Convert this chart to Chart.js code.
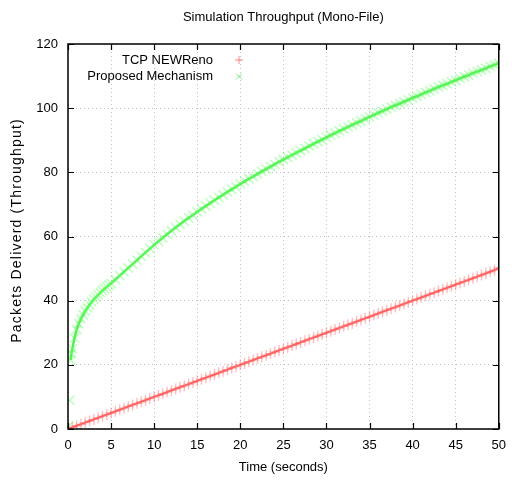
<!DOCTYPE html>
<html>
<head>
<meta charset="utf-8">
<script src="https://cdn.jsdelivr.net/npm/chart.js@4/dist/chart.umd.min.js"></script>
<style>
    html, body { margin: 0; padding: 0; background: #fff; }
    #wrap { width: 515px; height: 482px; }
</style>
</head>
<body>
<div id="wrap"><canvas id="chart" width="515" height="482"></canvas></div>
<script>
// ---------------------------------------------------------
// Data
// ---------------------------------------------------------

const titleText  = 'Simulation Throughput (Mono-File)';
const xAxisTitle = 'Time (seconds)';
const yAxisTitle = 'Packets Deliverd (Throughput)';

const seriesNames = ['TCP NEWReno', 'Proposed Mechanism'];

const xTicks = [0, 5, 10, 15, 20, 25, 30, 35, 40, 45, 50];
const yTicks = [0, 20, 40, 60, 80, 100, 120];

const timeNewReno = [
    0, 0.5, 1, 1.5, 2, 2.5, 3, 3.5, 4, 4.5, 5, 5.5, 6, 6.5, 7, 7.5, 8, 8.5, 9, 9.5,
    10, 10.5, 11, 11.5, 12, 12.5, 13, 13.5, 14, 14.5, 15, 15.5, 16, 16.5, 17, 17.5, 18, 18.5, 19, 19.5,
    20, 20.5, 21, 21.5, 22, 22.5, 23, 23.5, 24, 24.5, 25, 25.5, 26, 26.5, 27, 27.5, 28, 28.5, 29, 29.5,
    30, 30.5, 31, 31.5, 32, 32.5, 33, 33.5, 34, 34.5, 35, 35.5, 36, 36.5, 37, 37.5, 38, 38.5, 39, 39.5,
    40, 40.5, 41, 41.5, 42, 42.5, 43, 43.5, 44, 44.5, 45, 45.5, 46, 46.5, 47, 47.5, 48, 48.5, 49, 49.5, 50
];
const packetsNewReno = [
    0, 0.5, 1, 1.5, 2, 2.5, 3, 3.5, 4, 4.5, 5, 5.5, 6, 6.5, 7, 7.5, 8, 8.5, 9, 9.5,
    10, 10.5, 11, 11.5, 12, 12.5, 13, 13.5, 14, 14.5, 15, 15.5, 16, 16.5, 17, 17.5, 18, 18.5, 19, 19.5,
    20, 20.5, 21, 21.5, 22, 22.5, 23, 23.5, 24, 24.5, 25, 25.5, 26, 26.5, 27, 27.5, 28, 28.5, 29, 29.5,
    30, 30.5, 31, 31.5, 32, 32.5, 33, 33.5, 34, 34.5, 35, 35.5, 36, 36.5, 37, 37.5, 38, 38.5, 39, 39.5,
    40, 40.5, 41, 41.5, 42, 42.5, 43, 43.5, 44, 44.5, 45, 45.5, 46, 46.5, 47, 47.5, 48, 48.5, 49, 49.5, 50.2
];

// first two samples are isolated start-up points, the band starts at 0.3 s
const timeProposed = [
    0.1, 0.2, 0.3, 0.4, 0.5, 0.75, 1, 1.25, 1.5, 1.75, 2, 2.25, 2.5, 2.75, 3, 3.25, 3.5, 3.75, 4, 4.25, 4.5, 4.75,
    5, 5.5, 6, 6.5, 7, 7.5, 8, 8.5, 9, 9.5,
    10, 10.5, 11, 11.5, 12, 12.5, 13, 13.5, 14, 14.5, 15, 15.5, 16, 16.5, 17, 17.5, 18, 18.5, 19, 19.5,
    20, 20.5, 21, 21.5, 22, 22.5, 23, 23.5, 24, 24.5, 25, 25.5, 26, 26.5, 27, 27.5, 28, 28.5, 29, 29.5,
    30, 30.5, 31, 31.5, 32, 32.5, 33, 33.5, 34, 34.5, 35, 35.5, 36, 36.5, 37, 37.5, 38, 38.5, 39, 39.5,
    40, 40.5, 41, 41.5, 42, 42.5, 43, 43.5, 44, 44.5, 45, 45.5, 46, 46.5, 47, 47.5, 48, 48.5, 49, 49.5, 50
];
const packetsProposed = [
    1, 9, 21.5, 23.5, 25, 28.3, 31, 32.8, 34.3, 35.6, 36.8, 37.8, 38.7, 39.6, 40.4, 41.1, 41.8, 42.5, 43.1, 43.7, 44.3, 44.9,
    45.4, 46.6, 47.8, 49.0, 50.2, 51.4, 52.6, 53.8, 55.0, 56.2,
    57.4, 58.5, 59.6, 60.7, 61.8, 62.8, 63.8, 64.8, 65.8, 66.7, 67.7, 68.6, 69.5, 70.4, 71.3, 72.2, 73.0, 73.9, 74.7, 75.5,
    76.4, 77.2, 78.0, 78.7, 79.5, 80.3, 81.0, 81.8, 82.5, 83.3, 84.0, 84.7, 85.4, 86.1, 86.8, 87.5, 88.2, 88.9, 89.6, 90.2,
    90.9, 91.6, 92.2, 92.9, 93.5, 94.2, 94.8, 95.4, 96.0, 96.7, 97.3, 97.9, 98.5, 99.1, 99.7, 100.3, 100.9, 101.4, 102.0, 102.6,
    103.2, 103.7, 104.3, 104.9, 105.4, 106.0, 106.6, 107.1, 107.6, 108.2, 108.7, 109.3, 109.8, 110.3, 110.9, 111.4, 111.9, 112.4, 113.0, 113.5,
    114.0
];

// ---------------------------------------------------------
// Helpers
// ---------------------------------------------------------

const FONT = "'Liberation Sans', Arial, Helvetica, sans-serif";

function toPoints(xs, ys) {
    return xs.map((x, i) => ({ x, y: ys[i] }));
}

function drawMarker(ctx, style, x, y, r) {
    ctx.beginPath();
    if (style === 'cross') {
        ctx.moveTo(x - r, y); ctx.lineTo(x + r, y);
        ctx.moveTo(x, y - r); ctx.lineTo(x, y + r);
    } else {
        const d = r * 0.75;
        ctx.moveTo(x - d, y - d); ctx.lineTo(x + d, y + d);
        ctx.moveTo(x - d, y + d); ctx.lineTo(x + d, y - d);
    }
    ctx.stroke();
}

// text with a little extra tracking, drawn char by char (centred on 0,0)
function spacedText(ctx, text, spacing) {
    const widths = [...text].map(c => ctx.measureText(c).width);
    const total = widths.reduce((s, w) => s + w, 0) + spacing * (text.length - 1);
    let x = -total / 2;
    ctx.textAlign = 'left';
    [...text].forEach((c, i) => {
        ctx.fillText(c, x, 0);
        x += widths[i] + spacing;
    });
}

// gnuplot-like frame, inward ticks, titles and key
const gnuplotDecor = {
    id: 'gnuplotDecor',
    afterDraw(chart) {
        const { ctx, chartArea: a, scales } = chart;
        const tl = 6;

        ctx.save();

        // inward ticks on all four sides
        ctx.strokeStyle = '#000';
        ctx.lineWidth = 1.2;
        ctx.beginPath();
        xTicks.forEach(v => {
            const px = Math.round(scales.x.getPixelForValue(v)) + 0.5;
            ctx.moveTo(px, a.bottom); ctx.lineTo(px, a.bottom - tl);
            ctx.moveTo(px, a.top);    ctx.lineTo(px, a.top + tl);
        });
        yTicks.forEach(v => {
            const py = Math.round(scales.y.getPixelForValue(v)) + 0.5;
            ctx.moveTo(a.left, py);  ctx.lineTo(a.left + tl, py);
            ctx.moveTo(a.right, py); ctx.lineTo(a.right - tl, py);
        });
        ctx.stroke();

        // frame
        ctx.lineWidth = 1.5;
        ctx.strokeRect(a.left, a.top, a.right - a.left, a.bottom - a.top);

        // titles
        ctx.fillStyle = '#000';
        ctx.font = `13px ${FONT}`;
        ctx.textAlign = 'center';
        ctx.textBaseline = 'middle';
        const cx = (a.left + a.right) / 2;
        ctx.fillText(titleText, cx, 17);
        ctx.fillText(xAxisTitle, cx, 467);

        ctx.save();
        ctx.translate(17, 231);
        ctx.rotate(-Math.PI / 2);
        ctx.font = `14px ${FONT}`;
        spacedText(ctx, yAxisTitle, 1.2);
        ctx.restore();

        // key (text right-aligned, sample marker to the right)
        ctx.textAlign = 'right';
        ctx.font = `13px ${FONT}`;
        chart.data.datasets.forEach((ds, i) => {
            const y = 60 + i * 16.5;
            ctx.fillStyle = '#000';
            ctx.fillText(ds.label, 213, y);
            ctx.strokeStyle = ds.keyColor;
            ctx.lineWidth = 1;
            drawMarker(ctx, ds.pointStyle, 239, y, 4);
        });

        ctx.restore();
    }
};

// ---------------------------------------------------------
// Chart
// ---------------------------------------------------------

new Chart(document.getElementById('chart'), {
    type: 'scatter',
    data: {
        datasets: [
            {
                label: seriesNames[0],
                data: toPoints(timeNewReno, packetsNewReno),
                pointStyle: 'cross',
                pointRadius: 5.5,
                pointBorderWidth: 1.4,
                pointBorderColor: 'rgba(255, 90, 90, 0.38)',
                pointBackgroundColor: 'rgba(255, 90, 90, 0.38)',
                borderColor: 'rgba(255, 0, 0, 0.6)',
                borderWidth: 2,
                keyColor: 'rgba(255, 0, 0, 0.45)',
                showLine: true,
            },
            {
                label: seriesNames[1],
                data: toPoints(timeProposed, packetsProposed),
                pointStyle: 'crossRot',
                pointRadius: 6.5,
                pointBorderWidth: 1.5,
                pointBorderColor: 'rgba(90, 255, 90, 0.42)',
                pointBackgroundColor: 'rgba(90, 255, 90, 0.42)',
                borderColor: 'rgba(0, 225, 0, 0.65)',
                borderWidth: 2.5,
                keyColor: 'rgba(0, 220, 0, 0.5)',
                showLine: true,
                // no centre trace through the isolated start-up samples
                segment: {
                    borderColor: c => (c.p0DataIndex < 2 ? 'rgba(0,0,0,0)' : undefined),
                },
            },
        ],
    },
    options: {
        responsive: false,
        animation: false,
        layout: { padding: { top: 44, right: 8, left: 0, bottom: 0 } },
        plugins: {
            legend:  { display: false },
            title:   { display: false },
            tooltip: { enabled: false },
        },
        scales: {
            x: {
                type: 'linear',
                min: 0, max: 50,
                afterFit: s => { s.height = 53; },
                afterBuildTicks: s => { s.ticks = xTicks.map(v => ({ value: v })); },
                ticks: { color: '#000', padding: 9, maxRotation: 0,
                         font: { family: FONT, size: 13 } },
                grid: { color: '#c4c4c4', lineWidth: 1, drawTicks: false },
                border: { display: false, dash: [1, 3] },
            },
            y: {
                type: 'linear',
                min: 0, max: 120,
                afterFit: s => { s.width = 68; },
                afterBuildTicks: s => { s.ticks = yTicks.map(v => ({ value: v })); },
                ticks: { color: '#000', padding: 10,
                         font: { family: FONT, size: 13 } },
                grid: { color: '#c4c4c4', lineWidth: 1, drawTicks: false },
                border: { display: false, dash: [1, 3] },
            },
        },
    },
    plugins: [gnuplotDecor],
});
</script>
</body>
</html>
